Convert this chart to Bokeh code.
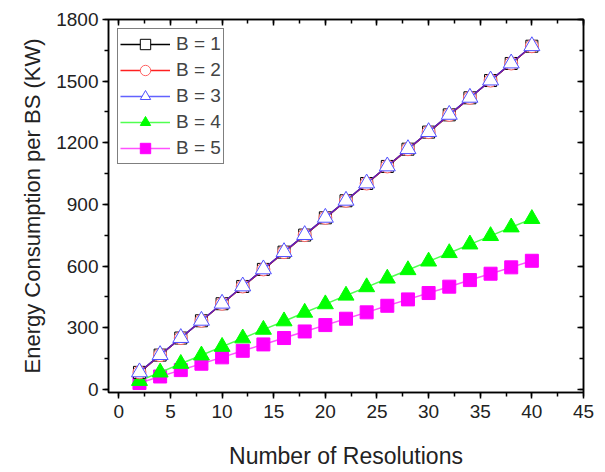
from bokeh.plotting import figure
from bokeh.models import LinearAxis, Range1d, SingleIntervalTicker
from bokeh.embed import file_html
from bokeh.resources import INLINE

resolutions = [2, 4, 6, 8, 10, 12, 14, 16, 18, 20, 22, 24, 26, 28, 30, 32, 34, 36, 38, 40]
b1 = [83, 167, 250, 334, 417, 501, 584, 668, 751, 835, 918, 1002, 1085, 1169, 1252, 1336, 1419, 1503, 1586, 1670]
b2 = [83, 167, 250, 334, 417, 501, 584, 668, 751, 835, 918, 1002, 1085, 1169, 1252, 1336, 1419, 1503, 1586, 1670]
b3 = [84, 168, 251, 335, 418, 502, 585, 669, 752, 836, 919, 1003, 1086, 1170, 1253, 1337, 1420, 1504, 1587, 1671]
b4 = [42, 83, 125, 166, 208, 249, 291, 332, 374, 415, 457, 498, 540, 581, 623, 664, 706, 747, 789, 830]
b5 = [31, 63, 94, 125, 156, 188, 219, 250, 282, 313, 344, 375, 407, 438, 469, 500, 532, 563, 594, 626]
labels = ["B = 1", "B = 2", "B = 3", "B = 4", "B = 5"]

FONT = "Liberation Sans"

p = figure(width=597, height=471, output_backend="svg", toolbar_location=None,
           x_range=Range1d(-1, 45), y_range=Range1d(-15, 1800),
           min_border_left=108, min_border_right=14, min_border_top=19, min_border_bottom=70)
p.xgrid.visible = False
p.ygrid.visible = False
p.outline_line_color = "black"
p.outline_line_width = 1.5

line_colors = ["black", "#ff2020", "#2020ff", "#50ff50", "#ff50ff"]

# series: draw lower ones first
p.line(resolutions, b5, line_color=line_colors[4], line_width=1.5, legend_label=labels[4])
p.scatter(resolutions, b5, marker="square", size=13, line_color="#ff00ff", fill_color="#ff00ff", legend_label=labels[4])
p.line(resolutions, b4, line_color=line_colors[3], line_width=1.5, legend_label=labels[3])
p.scatter(resolutions, b4, marker="triangle", size=16, line_color="#00ff00", fill_color="#00ff00", legend_label=labels[3])
p.line(resolutions, b1, line_color=line_colors[0], line_width=1.5, legend_label=labels[0])
p.scatter(resolutions, b1, marker="square", size=12, line_color="black", fill_color="white", legend_label=labels[0])
p.line(resolutions, b2, line_color=line_colors[1], line_width=1.5, legend_label=labels[1])
p.scatter(resolutions, b2, marker="circle", size=13, line_color="#ff6060", fill_color="white", legend_label=labels[1])
p.line(resolutions, b3, line_color=line_colors[2], line_width=1.5, line_alpha=0.7, legend_label=labels[2])
p.scatter(resolutions, b3, marker="triangle", size=16, line_color="#5050ff", fill_color="white", legend_label=labels[2])

leg = p.legend[0]
order = {l: i for i, l in enumerate(labels)}
leg.items = sorted(leg.items, key=lambda it: order[it.label.value])
leg.location = "top_left"
leg.margin = 9
leg.border_line_color = "black"
leg.border_line_width = 1.5
leg.background_fill_alpha = 1
leg.label_text_font = FONT
leg.label_text_font_size = "19px"
leg.label_height = 20
leg.glyph_height = 26
leg.glyph_width = 50
leg.spacing = 0
leg.padding = 2
leg.label_standoff = 6

for ax in [p.xaxis[0], p.yaxis[0]]:
    ax.axis_line_width = 1.5
    ax.major_tick_line_width = 1.5
    ax.minor_tick_line_width = 1.5
    ax.major_tick_out = 6
    ax.major_tick_in = 0
    ax.minor_tick_out = 4
    ax.minor_tick_in = 0
    ax.major_label_text_font = FONT
    ax.major_label_text_font_size = "19px"
    ax.major_label_text_color = "#222222"
    ax.axis_label_text_font = FONT
    ax.axis_label_text_font_style = "normal"
    ax.axis_label_text_color = "#222222"

p.xaxis[0].axis_label_text_font_size = "23px"
p.yaxis[0].axis_label_text_font_size = "22px"
p.xaxis[0].ticker = SingleIntervalTicker(interval=5, num_minor_ticks=2)
p.yaxis[0].ticker = SingleIntervalTicker(interval=300, num_minor_ticks=2)
p.xaxis[0].axis_label = "Number of Resolutions"
p.yaxis[0].axis_label = "Energy Consumption per BS (KW)"
p.xaxis[0].axis_label_standoff = 22
p.yaxis[0].axis_label_standoff = 8
p.xaxis[0].major_label_standoff = 6
p.yaxis[0].major_label_standoff = 4

top = LinearAxis(ticker=SingleIntervalTicker(interval=5, num_minor_ticks=2))
right = LinearAxis(ticker=SingleIntervalTicker(interval=300, num_minor_ticks=2))
for ax in [top, right]:
    ax.axis_line_width = 1.5
    ax.major_tick_line_width = 1.5
    ax.minor_tick_line_width = 1.5
    ax.major_tick_in = 6
    ax.major_tick_out = 0
    ax.minor_tick_in = 4
    ax.minor_tick_out = 0
    ax.major_label_text_font_size = "0px"
    ax.major_label_text_color = None
p.add_layout(top, "above")
p.add_layout(right, "right")

open("out.html", "w").write(file_html(p, INLINE))
